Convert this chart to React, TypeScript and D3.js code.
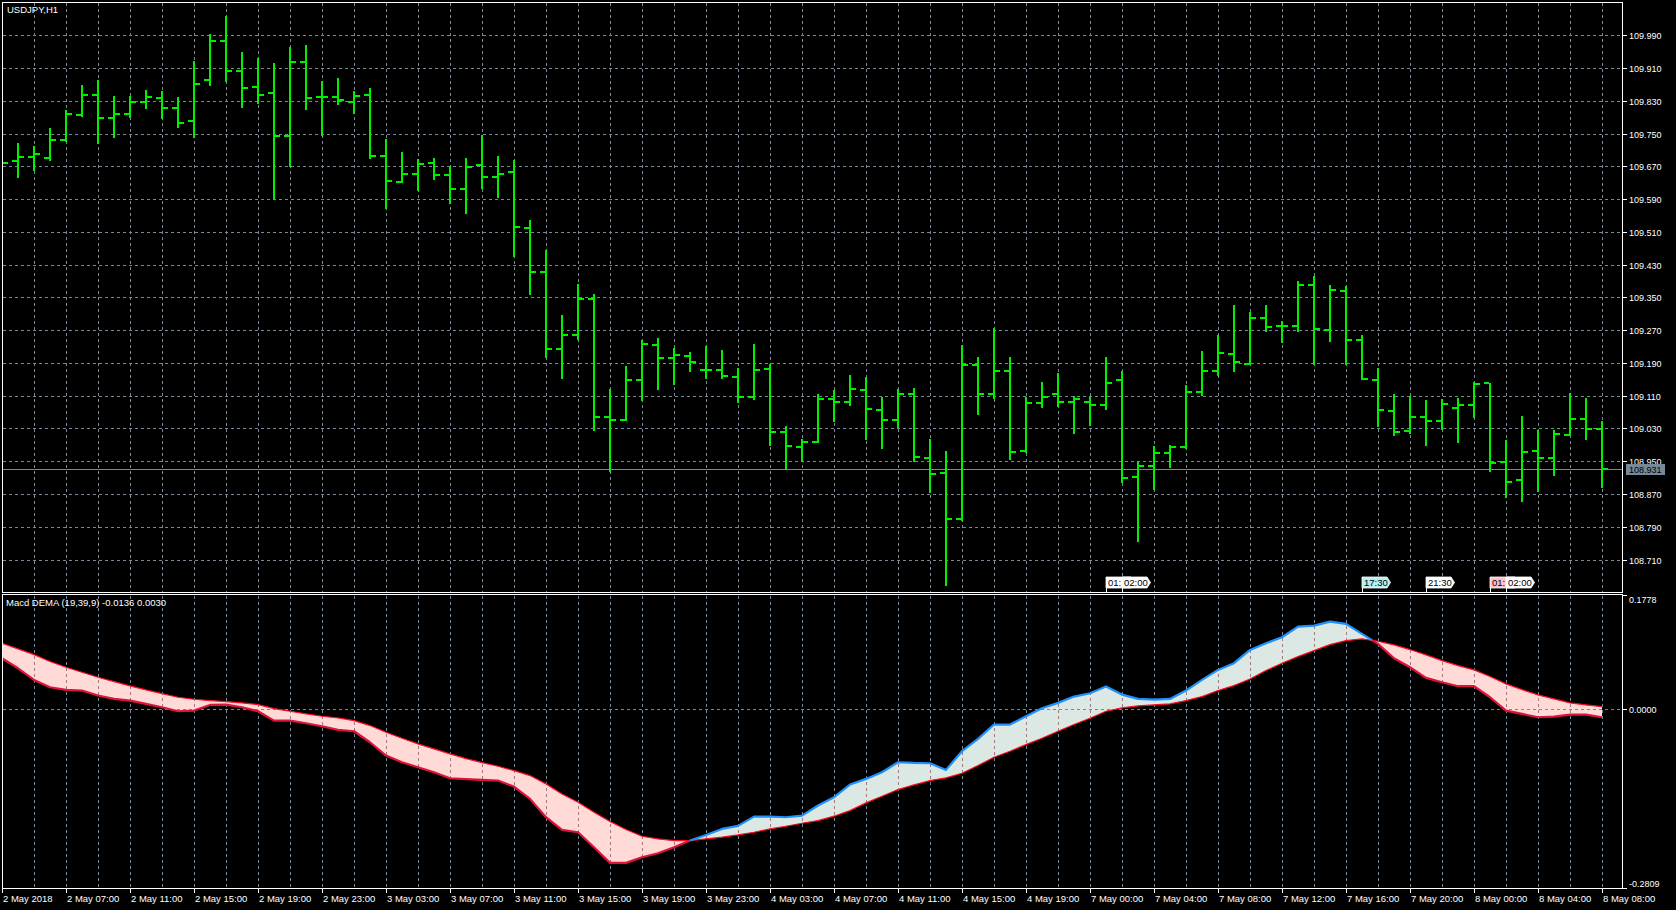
import React from 'react';
import * as d3 from 'd3';

// ---------- DATA ----------
const OPEN = [
  109.690, 109.684, 109.693, 109.691, 109.735, 109.794, 109.845, 109.788, 109.798, 109.827,
  109.837, 109.812, 109.781, 109.880, 109.977, 109.903, 109.864, 109.848, 109.743, 109.924,
  109.838, 109.838, 109.828, 109.845, 109.696, 109.632, 109.652, 109.679, 109.649, 109.615,
  109.673, 109.644, 109.656, 109.520, 109.413, 109.224, 109.258, 109.346, 109.059, 109.051,
  109.149, 109.234, 109.202, 109.207, 109.173, 109.173, 109.156, 109.107, 109.175, 109.022,
  108.985, 108.998, 109.102, 109.095, 109.125, 109.075, 109.051, 109.115, 108.959, 108.921,
  108.809, 109.186, 109.113, 109.169, 108.975, 109.092, 109.115, 109.095, 109.095, 109.088,
  109.149, 108.912, 108.939, 108.971, 108.985, 109.118, 109.169, 109.212, 109.187, 109.299,
  109.281, 109.281, 109.380, 109.271, 109.365, 109.246, 109.148, 109.073, 109.024, 109.059,
  109.047, 109.080, 109.086, 109.140, 108.947, 108.903, 108.974, 108.959, 109.014, 109.053,
  109.029,
];
const HIGH = [
  109.705, 109.727, 109.719, 109.763, 109.808, 109.869, 109.881, 109.841, 109.841, 109.856,
  109.854, 109.840, 109.927, 109.993, 110.038, 109.949, 109.935, 109.922, 109.961, 109.966,
  109.877, 109.885, 109.854, 109.861, 109.737, 109.705, 109.688, 109.690, 109.671, 109.690,
  109.746, 109.695, 109.685, 109.539, 109.466, 109.308, 109.383, 109.359, 109.126, 109.183,
  109.245, 109.251, 109.227, 109.216, 109.232, 109.221, 109.177, 109.236, 109.187, 109.036,
  109.003, 109.114, 109.124, 109.160, 109.156, 109.107, 109.126, 109.129, 109.004, 108.974,
  109.234, 109.204, 109.275, 109.204, 109.107, 109.144, 109.165, 109.109, 109.107, 109.204,
  109.171, 108.950, 108.988, 108.989, 109.136, 109.219, 109.258, 109.331, 109.315, 109.331,
  109.293, 109.390, 109.402, 109.380, 109.378, 109.257, 109.177, 109.114, 109.109, 109.100,
  109.102, 109.104, 109.144, 109.140, 109.001, 109.060, 109.027, 109.027, 109.116, 109.104,
  109.048,
];
const LOW = [
  109.665, 109.644, 109.662, 109.686, 109.732, 109.792, 109.726, 109.742, 109.791, 109.813,
  109.788, 109.767, 109.742, 109.869, 109.878, 109.815, 109.825, 109.593, 109.670, 109.810,
  109.746, 109.821, 109.800, 109.689, 109.568, 109.631, 109.611, 109.638, 109.581, 109.555,
  109.617, 109.594, 109.452, 109.359, 109.204, 109.154, 109.249, 109.027, 108.927, 109.051,
  109.100, 109.127, 109.139, 109.171, 109.154, 109.154, 109.095, 109.101, 108.990, 108.931,
  108.950, 108.997, 109.049, 109.088, 109.005, 108.983, 109.034, 108.950, 108.874, 108.648,
  108.807, 109.066, 109.104, 108.956, 108.973, 109.083, 109.084, 109.018, 109.038, 109.077,
  108.899, 108.755, 108.882, 108.936, 108.983, 109.111, 109.160, 109.171, 109.187, 109.267,
  109.242, 109.267, 109.187, 109.244, 109.188, 109.150, 109.036, 109.013, 109.019, 108.990,
  109.028, 108.997, 109.058, 108.925, 108.863, 108.854, 108.877, 108.917, 109.013, 109.005,
  108.887,
];
const CLOSE = [
  109.679, 109.693, 109.699, 109.735, 109.797, 109.845, 109.788, 109.798, 109.827, 109.840,
  109.812, 109.776, 109.872, 109.977, 109.903, 109.862, 109.845, 109.743, 109.924, 109.837,
  109.838, 109.833, 109.842, 109.696, 109.634, 109.652, 109.676, 109.649, 109.615, 109.669,
  109.644, 109.652, 109.522, 109.413, 109.224, 109.258, 109.347, 109.059, 109.051, 109.149,
  109.237, 109.202, 109.210, 109.191, 109.172, 109.159, 109.107, 109.173, 109.022, 108.988,
  108.998, 109.102, 109.095, 109.127, 109.078, 109.051, 109.115, 108.960, 108.919, 108.809,
  109.186, 109.113, 109.169, 108.973, 109.092, 109.107, 109.095, 109.102, 109.088, 109.142,
  108.910, 108.939, 108.971, 108.985, 109.118, 109.169, 109.215, 109.191, 109.300, 109.278,
  109.281, 109.380, 109.272, 109.368, 109.246, 109.150, 109.075, 109.022, 109.059, 109.047,
  109.090, 109.086, 109.138, 108.945, 108.900, 108.973, 108.959, 109.016, 109.053, 109.029,
  108.931,
];

const MACD = [
  0.0788, 0.0631, 0.0449, 0.0334, 0.0292, 0.0282, 0.0204, 0.0151, 0.0125, 0.0073,
  0.0021, -0.0042, -0.0031, 0.0057, 0.0063, 0.0021, -0.0042, -0.0188, -0.0188, -0.0230,
  -0.0277, -0.0334, -0.0355, -0.0527, -0.0736, -0.0840, -0.0918, -0.0997, -0.1091, -0.1106,
  -0.1117, -0.1127, -0.1221, -0.1414, -0.1701, -0.1899, -0.1936, -0.2171, -0.2416, -0.2416,
  -0.2327, -0.2265, -0.2171, -0.2066, -0.1978, -0.1884, -0.1837, -0.1691, -0.1691, -0.1701,
  -0.1675, -0.1518, -0.1388, -0.1190, -0.1101, -0.0997, -0.0840, -0.0851, -0.0856, -0.0960,
  -0.0668, -0.0475, -0.0250, -0.0250, -0.0120, 0.0005, 0.0089, 0.0188, 0.0240, 0.0344,
  0.0219, 0.0151, 0.0141, 0.0151, 0.0282, 0.0449, 0.0605, 0.0710, 0.0918, 0.1023,
  0.1117, 0.1284, 0.1299, 0.1362, 0.1325, 0.1169, 0.1012, 0.0788, 0.0647, 0.0480,
  0.0412, 0.0350, 0.0350, 0.0177, -0.0031, -0.0083, -0.0136, -0.0125, -0.0094, -0.0094,
  -0.0136,
];
const SIGNAL = [
  0.1023, 0.0934, 0.0845, 0.0736, 0.0647, 0.0569, 0.0491, 0.0423, 0.0355, 0.0292,
  0.0235, 0.0177, 0.0146, 0.0125, 0.0110, 0.0089, 0.0063, 0.0000, -0.0042, -0.0083,
  -0.0120, -0.0146, -0.0188, -0.0266, -0.0370, -0.0464, -0.0553, -0.0631, -0.0710, -0.0783,
  -0.0845, -0.0903, -0.0971, -0.1049, -0.1179, -0.1336, -0.1466, -0.1623, -0.1769, -0.1894,
  -0.1999, -0.2040, -0.2066, -0.2066, -0.2040, -0.2014, -0.1978, -0.1936, -0.1884, -0.1842,
  -0.1795, -0.1753, -0.1685, -0.1597, -0.1477, -0.1372, -0.1268, -0.1195, -0.1127, -0.1085,
  -0.1012, -0.0892, -0.0762, -0.0668, -0.0564, -0.0464, -0.0355, -0.0250, -0.0151, -0.0042,
  0.0010, 0.0042, 0.0057, 0.0073, 0.0125, 0.0188, 0.0282, 0.0360, 0.0464, 0.0595,
  0.0710, 0.0814, 0.0908, 0.1002, 0.1064, 0.1091, 0.1054, 0.0997, 0.0924, 0.0840,
  0.0751, 0.0673, 0.0605, 0.0501, 0.0386, 0.0297, 0.0214, 0.0151, 0.0089, 0.0057,
  0.0030,
];

const TIME_LABELS = [
  '2 May 2018', '2 May 07:00', '2 May 11:00', '2 May 15:00', '2 May 19:00', '2 May 23:00',
  '3 May 03:00', '3 May 07:00', '3 May 11:00', '3 May 15:00', '3 May 19:00', '3 May 23:00',
  '4 May 03:00', '4 May 07:00', '4 May 11:00', '4 May 15:00', '4 May 19:00', '7 May 00:00',
  '7 May 04:00', '7 May 08:00', '7 May 12:00', '7 May 16:00', '7 May 20:00', '8 May 00:00',
  '8 May 04:00', '8 May 08:00',
];
const PRICE_TICKS = [
  109.99, 109.91, 109.83, 109.75, 109.67, 109.59, 109.51, 109.43, 109.35,
  109.27, 109.19, 109.11, 109.03, 108.95, 108.87, 108.79, 108.71,
];
const IND_TICKS = [0.1778, 0.0, -0.2809];
const LAST_PRICE = 108.931;
const TITLE = 'USDJPY,H1';
const IND_TITLE = 'Macd DEMA (19,39,9) -0.0136 0.0030';
const TAG_BARS = [69, 70, 85, 89, 93, 94];
const TAG_TEXTS = ['01:', '02:00', '17:30', '21:30', '01:', '02:00'];
const TAG_COLORS = ['#ffffff', '#ffffff', '#b4f0f0', '#ffffff', '#ffc0cb', '#ffffff'];

// ---------- LAYOUT ----------
const W = 1676;
const H = 910;
const LEFT = 2.5;
const RIGHT = 1622.5;
const MAIN_TOP = 2.5;
const MAIN_BOTTOM = 592.5;
const IND_TOP = 594.5;
const IND_BOTTOM = 888.5;
const FONT = "'Liberation Sans', Arial, sans-serif";
const GRID = '#778899';
const BAR = '#00f000';

export default function App() {
  const n = CLOSE.length;
  const x = d3.scaleLinear().domain([0, 100]).range([2, 1602]);
  const yP = d3.scaleLinear().domain([108.71, 109.99]).range([559.5, 35.2]);
  const yI = d3.scaleLinear().domain([-0.2809, 0.1778]).range([888, 595]);

  const evenBars = d3.range(2, n, 2);
  const labelBars = TIME_LABELS.map((_, i) => i * 4);

  type Pt = [number, number];
  const runs: { sign: number; m: Pt[]; s: Pt[] }[] = [];
  let cur: { sign: number; m: Pt[]; s: Pt[] } | null = null;
  for (let i = 0; i < n; i++) {
    const d = MACD[i] - SIGNAL[i];
    const sign = d >= 0 ? 1 : -1;
    if (!cur) {
      cur = { sign, m: [[i, MACD[i]]], s: [[i, SIGNAL[i]]] };
      continue;
    }
    if (sign === cur.sign) {
      cur.m.push([i, MACD[i]]);
      cur.s.push([i, SIGNAL[i]]);
    } else {
      const dp = MACD[i - 1] - SIGNAL[i - 1];
      const t = dp / (dp - d);
      const xc = i - 1 + t;
      const vc = MACD[i - 1] + t * (MACD[i] - MACD[i - 1]);
      cur.m.push([xc, vc]);
      cur.s.push([xc, vc]);
      runs.push(cur);
      cur = { sign, m: [[xc, vc], [i, MACD[i]]], s: [[xc, vc], [i, SIGNAL[i]]] };
    }
  }
  if (cur) runs.push(cur);

  const line = d3
    .line<Pt>()
    .x((p) => x(p[0]))
    .y((p) => yI(p[1]));
  const polyPath = (r: { m: Pt[]; s: Pt[] }) =>
    'M' +
    r.m.map((p) => `${x(p[0])},${yI(p[1])}`).join('L') +
    'L' +
    r.s
      .slice()
      .reverse()
      .map((p) => `${x(p[0])},${yI(p[1])}`)
      .join('L') +
    'Z';

  const lastY = Math.round(yP(LAST_PRICE)) + 0.5;

  return (
    <svg
      width={W}
      height={H}
      style={{ position: 'absolute', left: 0, top: 0, background: '#000', display: 'block' }}
      fontFamily={FONT}
    >
      <defs>
        <clipPath id="mainClip">
          <rect x={3} y={3} width={RIGHT - 3} height={MAIN_BOTTOM - 3} />
        </clipPath>
        <clipPath id="indClip">
          <rect x={3} y={IND_TOP + 0.5} width={RIGHT - 3} height={IND_BOTTOM - IND_TOP - 1} />
        </clipPath>
        <clipPath id="fillClip">
          {runs.map((r, i) => (
            <path key={i} d={polyPath(r)} />
          ))}
        </clipPath>
      </defs>
      <rect x={0} y={0} width={W} height={H} fill="#000" />

      {/* main grid */}
      <g stroke={GRID} strokeWidth={1} strokeDasharray="3,3" shapeRendering="crispEdges">
        {PRICE_TICKS.map((p) => {
          const yy = Math.round(yP(p)) + 0.5;
          return <line key={p} x1={3} x2={RIGHT} y1={yy} y2={yy} />;
        })}
        {evenBars.map((k) => (
          <line key={k} x1={x(k) + 0.5} x2={x(k) + 0.5} y1={3} y2={MAIN_BOTTOM} />
        ))}
      </g>

      {/* bid line */}
      <line x1={3} x2={RIGHT} y1={lastY} y2={lastY} stroke={GRID} strokeWidth={1} shapeRendering="crispEdges" />

      {/* OHLC bars */}
      <g clipPath="url(#mainClip)" fill={BAR} shapeRendering="crispEdges">
        {CLOSE.map((c, i) => {
          const xi = Math.round(x(i));
          const yh = Math.round(yP(HIGH[i]));
          const yl = Math.round(yP(LOW[i]));
          const yo = Math.round(yP(OPEN[i]));
          const yc = Math.round(yP(c));
          return (
            <g key={i}>
              <rect x={xi - 1} y={yh} width={2} height={Math.max(1, yl - yh + 1)} />
              <rect x={xi - 6} y={yo - 1} width={5} height={2} />
              <rect x={xi + 1} y={yc - 1} width={5} height={2} />
            </g>
          );
        })}
      </g>

      {/* tags */}
      {TAG_BARS.map((b, i) => {
        const x0 = Math.round(x(b));
        return (
          <g key={i}>
            <line x1={x0 + 0.5} x2={x0 + 0.5} y1={587} y2={MAIN_BOTTOM} stroke="#fff" shapeRendering="crispEdges" />
            <path
              d={`M${x0},577 H${x0 + 25} L${x0 + 28.5},582.5 L${x0 + 25},588 H${x0} Z`}
              fill={TAG_COLORS[i]}
              stroke="#ffffff"
              strokeWidth={0.8}
            />
            <text x={x0 + 2} y={586} fontSize={9.5} fill="#000">
              {TAG_TEXTS[i]}
            </text>
          </g>
        );
      })}

      {/* frames */}
      <rect x={LEFT} y={MAIN_TOP} width={RIGHT - LEFT} height={MAIN_BOTTOM - MAIN_TOP} fill="none" stroke="#fff" shapeRendering="crispEdges" />

      {/* price axis */}
      <g fontSize={9} fill="#fff">
        {PRICE_TICKS.map((p) => {
          const yy = Math.round(yP(p)) + 0.5;
          return (
            <g key={p}>
              <line x1={RIGHT} x2={RIGHT + 4} y1={yy} y2={yy} stroke="#fff" shapeRendering="crispEdges" />
              <text x={1629} y={yy + 3.5}>
                {p.toFixed(3)}
              </text>
            </g>
          );
        })}
      </g>
      <rect x={1626} y={lastY - 5.5} width={39} height={11} fill="#778899" />
      <text x={1629} y={lastY + 3.5} fontSize={9} fill="#000">
        {LAST_PRICE.toFixed(3)}
      </text>

      <text x={7} y={13} fontSize={9.5} fill="#fff">
        {TITLE}
      </text>

      {/* indicator */}
      <g stroke={GRID} strokeWidth={1} strokeDasharray="3,3" shapeRendering="crispEdges">
        <line x1={3} x2={RIGHT} y1={Math.round(yI(0)) + 0.5} y2={Math.round(yI(0)) + 0.5} />
        {evenBars.map((k) => (
          <line key={k} x1={x(k) + 0.5} x2={x(k) + 0.5} y1={IND_TOP + 1} y2={IND_BOTTOM} />
        ))}
      </g>
      <g clipPath="url(#indClip)">
        {runs.map((r, i) => (
          <path key={i} d={polyPath(r)} fill={r.sign > 0 ? '#dce8e3' : '#ffdad6'} stroke="none" />
        ))}
        <g clipPath="url(#fillClip)" stroke="#a07880" strokeWidth={1} strokeDasharray="3,3" shapeRendering="crispEdges">
          <line x1={3} x2={RIGHT} y1={Math.round(yI(0)) + 0.5} y2={Math.round(yI(0)) + 0.5} />
          {evenBars.map((k) => (
            <line key={k} x1={x(k) + 0.5} x2={x(k) + 0.5} y1={IND_TOP + 1} y2={IND_BOTTOM} />
          ))}
        </g>
        <path d={line(SIGNAL.map((v, i) => [i, v] as Pt)) || ''} fill="none" stroke="#ff0a1e" strokeWidth={1.2} />
        {runs.map((r, i) => (
          <path
            key={i}
            d={line(r.m) || ''}
            fill="none"
            stroke={r.sign > 0 ? '#1e90ff' : '#dc143c'}
            strokeWidth={2.2}
            strokeLinejoin="round"
          />
        ))}
      </g>
      <rect x={LEFT} y={IND_TOP} width={RIGHT - LEFT} height={IND_BOTTOM - IND_TOP} fill="none" stroke="#fff" shapeRendering="crispEdges" />
      <text x={6} y={606} fontSize={9.5} fill="#fff">
        {IND_TITLE}
      </text>

      {/* indicator axis */}
      <g fontSize={9} fill="#fff">
        {IND_TICKS.map((v) => {
          const yy = Math.round(yI(v)) + 0.5;
          const ty = Math.min(Math.max(yy + 3.5, 603), 887);
          return (
            <g key={v}>
              <line x1={RIGHT} x2={RIGHT + 4} y1={yy} y2={yy} stroke="#fff" shapeRendering="crispEdges" />
              <text x={1629} y={ty}>
                {v.toFixed(4)}
              </text>
            </g>
          );
        })}
      </g>

      {/* time axis */}
      <g fontSize={9.5} fill="#fff">
        {labelBars.map((k, i) => {
          const xx = Math.round(x(k)) + 0.5;
          return (
            <g key={k}>
              <line x1={xx} x2={xx} y1={IND_BOTTOM} y2={IND_BOTTOM + 4} stroke="#fff" shapeRendering="crispEdges" />
              <text x={xx + 0.5} y={902}>
                {TIME_LABELS[i]}
              </text>
            </g>
          );
        })}
      </g>
    </svg>
  );
}
